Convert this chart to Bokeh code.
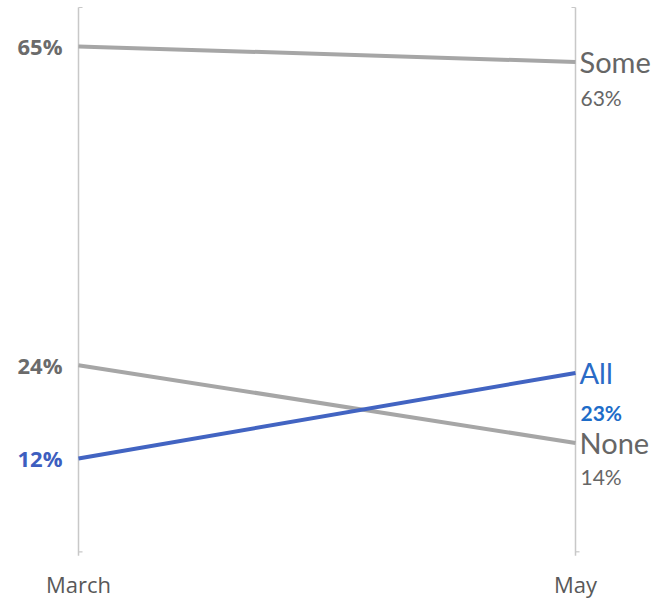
from bokeh.plotting import figure
from bokeh.models import Range1d, ColumnDataSource
from bokeh.core.properties import value
from bokeh.embed import file_html
from bokeh.resources import INLINE

# ---- data ----
periods = ["March", "May"]
series = ["Some", "None", "All"]
march_vals = [65, 24, 12]
may_vals = [63, 14, 23]
y_min, y_max = 0, 70

# ---- styles ----
line_colors = ["#A6A6A6", "#A6A6A6", "#4264C2"]
left_text_colors = ["#6B6B6B", "#6B6B6B", "#3D5EBF"]
name_colors = ["#666666", "#666666", "#2A6BC6"]
pct_colors = ["#666666", "#666666", "#1D6CC8"]
pct_styles = ["normal", "normal", "bold"]
pct_offsets = [36, 34, 40]

W, H = 656, 599
left_px, right_px = 78, 575
top_px, bot_px = 7, 551.3
xs = [0, 1]
ppx = (right_px - left_px) / (xs[1] - xs[0])
ppy = (bot_px - top_px) / (y_max - y_min)

p = figure(width=W, height=H, output_backend="svg", toolbar_location=None,
           x_range=Range1d(xs[0] - left_px / ppx, xs[1] + (W - right_px) / ppx),
           y_range=Range1d(y_min - (H - bot_px) / ppy, y_max + top_px / ppy),
           x_axis_type=None, y_axis_type=None, min_border=0)
p.outline_line_color = None
p.grid.visible = False
p.background_fill_color = "white"
p.border_fill_color = "white"

# vertical axis lines
ext = 4 / ppy
p.segment(x0=xs, x1=xs, y0=[y_min - ext] * 2, y1=[y_max] * 2,
          line_color="#C8C8C8", line_width=1.5)
# small end ticks
dx = 4 / ppx
p.segment(x0=[xs[0], xs[0], xs[1], xs[1]],
          x1=[xs[0] + dx, xs[0] + dx, xs[1] - dx, xs[1] + dx],
          y0=[y_min, y_max, y_max, y_min], y1=[y_min, y_max, y_max, y_min],
          line_color="#C8C8C8", line_width=1.2)

# slope lines
for i in range(len(series)):
    p.line(xs, [march_vals[i], may_vals[i]], line_color=line_colors[i], line_width=4)

# left labels
src_l = ColumnDataSource(dict(x=[xs[0]] * 3, y=march_vals,
                              t=[f"{v}%" for v in march_vals], c=left_text_colors))
p.text(x="x", y="y", text="t", source=src_l, text_color="c",
       text_font=value("Open Sans"), text_font_style="bold", text_font_size="22px",
       text_align="right", text_baseline="middle", x_offset=-16)

# right labels
src_r = ColumnDataSource(dict(x=[xs[1]] * 3, y=may_vals, t=series, c=name_colors))
p.text(x="x", y="y", text="t", source=src_r, text_color="c",
       text_font=value("Lato"), text_font_size="29px",
       text_align="left", text_baseline="middle", x_offset=4)

src_p = ColumnDataSource(dict(x=[xs[1]] * 3, y=may_vals,
                              t=[f"{v}%" for v in may_vals], c=pct_colors,
                              s=pct_styles, o=pct_offsets))
p.text(x="x", y="y", text="t", source=src_p, text_color="c",
       text_font=value("Lato"), text_font_style="s", text_font_size="21px",
       text_align="left", text_baseline="middle", x_offset=5, y_offset="o")

# period labels
src_x = ColumnDataSource(dict(x=xs, y=[y_min] * 2, t=periods))
p.text(x="x", y="y", text="t", source=src_x, text_color="#595959",
       text_font=value("Open Sans"), text_font_size="22px",
       text_align="center", text_baseline="middle", y_offset=32)

open("out.html", "w").write(file_html(p, INLINE))
